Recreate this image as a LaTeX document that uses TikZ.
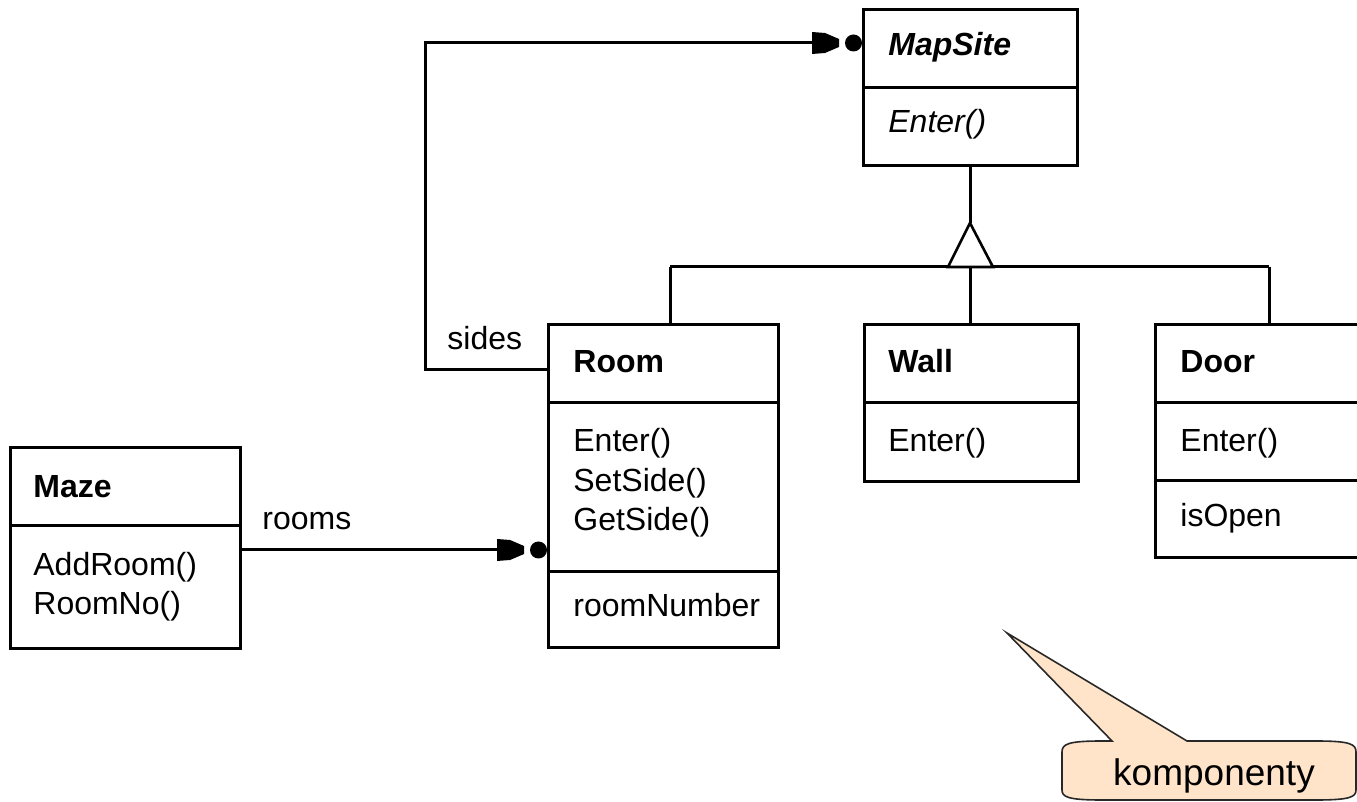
\documentclass[tikz,border=0pt]{standalone}
\usepackage{fontspec}
\setmainfont{Liberation Sans}
\definecolor{notefill}{RGB}{255,228,202}
\definecolor{noteedge}{RGB}{40,40,40}
\begin{document}
\begin{tikzpicture}[x=0.5pt,y=-0.5pt,
  classbox/.style={draw=black,line width=1.5pt,inner sep=0pt,outer sep=0pt,anchor=north west},
  wire/.style={draw=black,line width=1.5pt},
  txt/.style={anchor=base west,inner sep=0pt,font=\fontsize{16}{19}\selectfont},
  cname/.style={txt,font=\fontsize{16}{19}\selectfont\bfseries},
  manyhead/.pic={
    \fill[black] (-51,-11) -- (-38,-10) -- (-24,-4) -- (-24,4) -- (-38,10) -- (-51,11) -- cycle;
    \fill[black] (-9.5,0) circle[radius=8.5];
  }]
\useasboundingbox (0,0) rectangle (1357,802);
\clip (0,0) rectangle (1357,802);

% class boxes
\node[classbox,minimum width=107pt,minimum height=78pt] (mapsite) at (863,10) {};
\node[classbox,minimum width=115pt,minimum height=161.5pt] (room) at (548,325) {};
\node[classbox,minimum width=107pt,minimum height=78.5pt] (wall) at (864,325) {};
\node[classbox,minimum width=130pt,minimum height=116.5pt] (door) at (1155,325) {};
\node[classbox,minimum width=115pt,minimum height=100.5pt] (maze) at (10,448) {};

% compartment dividers
\draw[wire] (mapsite.west |- 0,88) -- (mapsite.east |- 0,88);
\draw[wire] (room.west |- 0,403) -- (room.east |- 0,403);
\draw[wire] (room.west |- 0,572) -- (room.east |- 0,572);
\draw[wire] (wall.west |- 0,403) -- (wall.east |- 0,403);
\draw[wire] (door.west |- 0,403) -- (door.east |- 0,403);
\draw[wire] (door.west |- 0,481) -- (door.east |- 0,481);
\draw[wire] (maze.west |- 0,526) -- (maze.east |- 0,526);

% class texts
\node[txt,font=\fontsize{16}{19}\selectfont\bfseries\itshape] (mapsite-name) at (888,56) {MapSite};
\node[txt,font=\fontsize{16}{19}\selectfont\itshape] (mapsite-op) at (888,133) {Enter()};

\node[cname] (room-name) at (573,373) {Room};
\node[txt] (room-op1) at (573,452) {Enter()};
\node[txt] (room-op2) at (573,492) {SetSide()};
\node[txt] (room-op3) at (573,531) {GetSide()};
\node[txt] (room-attr) at (573,617) {roomNumber};

\node[cname] (wall-name) at (888,373) {Wall};
\node[txt] (wall-op) at (888,452) {Enter()};

\node[cname] (door-name) at (1180,373) {Door};
\node[txt] (door-op) at (1180,452) {Enter()};
\node[txt] (door-attr) at (1180,527) {isOpen};

\node[cname] (maze-name) at (33,498) {Maze};
\node[txt] (maze-op1) at (33,576) {AddRoom()};
\node[txt] (maze-op2) at (33,615) {RoomNo()};

% inheritance: Room, Wall, Door are MapSites
\coordinate (apex) at (970,223);
\coordinate (barL) at (670,267);
\coordinate (barR) at (1269,267);
\draw[wire] (mapsite.south -| apex) -- (apex);
\draw[wire] (barL) -- (barR);
\draw[wire,fill=white,line width=1.3pt] (apex) -- (948,267) -- (993,267) -- cycle;
\draw[wire] (barL) -- (room.north -| barL);
\draw[wire] (apex |- barL) -- (wall.north -| apex);
\draw[wire] (barR) -- (door.north -| barR);

% Room --sides--> MapSite
\coordinate (sidesbend) at (425,43);
\draw[wire] (room.west |- 0,370) -| (sidesbend) -- ([xshift=-20pt]mapsite.west |- sidesbend);
\pic at (mapsite.west |- sidesbend) {manyhead};
\node[txt] (sides) at (447,350) {sides};

% Maze --rooms--> Room
\draw[wire] (maze.east |- 0,550) -- ([xshift=-20pt]room.west |- 0,550);
\pic at (room.west |- 0,550) {manyhead};
\node[txt] (rooms) at (262,530) {rooms};

% callout
\path[fill=notefill,draw=noteedge,line width=0.8pt]
  (1112,741) -- (1007,633) -- (1187,741) -- (1316,741)
  .. controls (1350,741) and (1356,744) .. (1356,752) -- (1356,790)
  .. controls (1356,797) and (1350,800) .. (1316,800) -- (1102,800)
  .. controls (1068,800) and (1062,797) .. (1062,790) -- (1062,752)
  .. controls (1062,744) and (1068,741) .. (1102,741) -- cycle;
\node[anchor=base,inner sep=0pt,font=\fontsize{18.5}{22}\selectfont] (note) at (1214,785) {komponenty};
\end{tikzpicture}
\end{document}
